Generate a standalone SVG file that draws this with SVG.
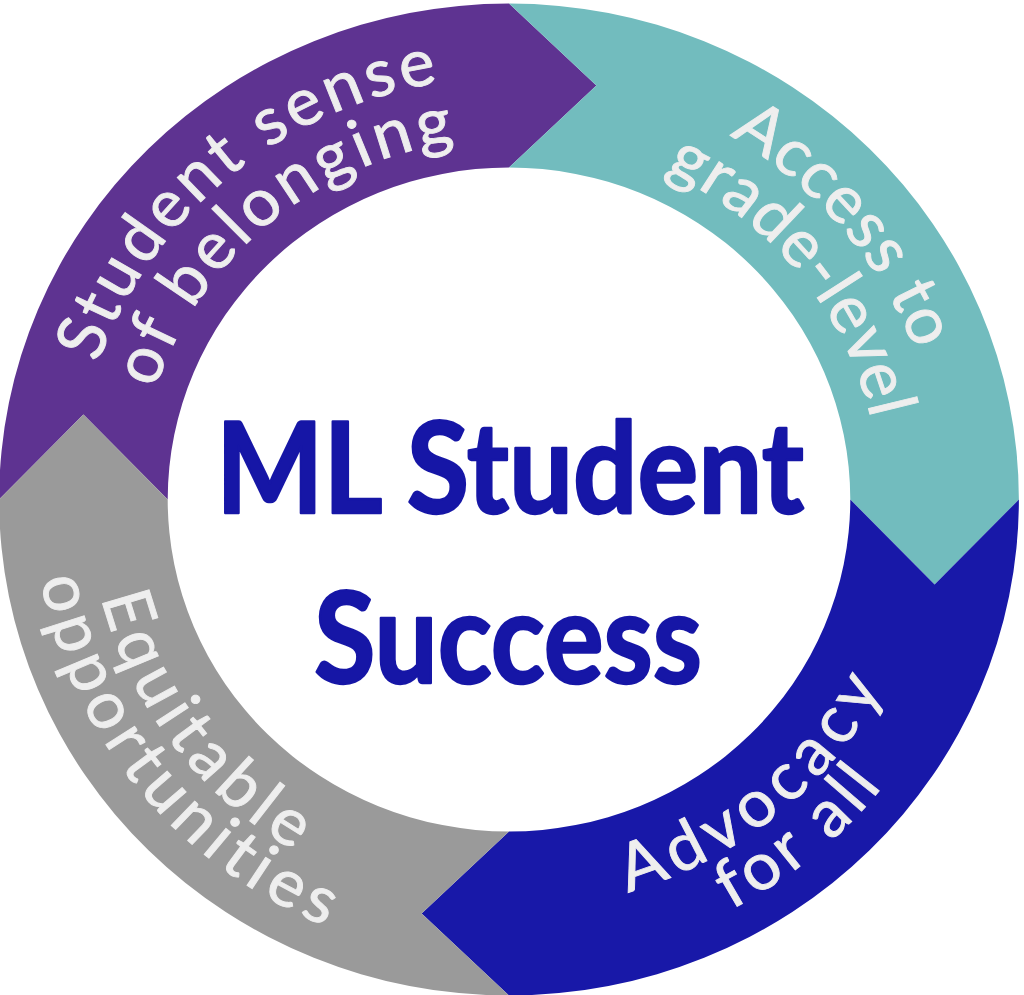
<svg xmlns="http://www.w3.org/2000/svg" width="1024" height="995" viewBox="0 0 1024 995">
<style>
.ring{font-family:Lato,"Noto Sans","DejaVu Sans",sans-serif;font-size:66px;letter-spacing:4px;fill:#EEEEEE;stroke:#EEEEEE;stroke-width:0.9;text-anchor:middle}
.center{font-family:Lato,"Noto Sans","DejaVu Sans",sans-serif;font-weight:700;font-size:126px;fill:#1616A6;stroke:#1616A6;stroke-width:2.5;stroke-linejoin:round;text-anchor:middle}
</style>
<defs>
<path id="pOut" d="M -345.7,242.1 A 422 422 0 0 1 298.4,-298.4"/>
<path id="pIn" d="M -295.7,207.1 A 361 361 0 0 1 255.3,-255.3"/>
<path id="tOut" d="M -242.1,-345.7 A 422 422 0 0 1 298.4,298.4"/>
<path id="tIn" d="M -201.9,-299.3 A 361 361 0 0 1 250.8,259.7"/>
<path id="bIn" d="M -289.2,289.2 A 409 409 0 0 0 335.1,-234.6"/>
<path id="bOut" d="M -327.4,327.4 A 463 463 0 0 0 379.3,-265.6"/>
<path id="gIn" d="M -273.7,-303.9 A 409 409 0 0 0 216.7,346.8"/>
<path id="gOut" d="M -321.6,-333.0 A 463 463 0 0 0 258.9,383.8"/>
</defs>
<rect width="1024" height="995" fill="#FFFFFF"/>
<g transform="translate(509,499.5) scale(1.028,1)">
<g id="belonging">
<path fill="#5E3391" d="M -496,0 A 496 496 0 0 1 0,-496 L 85,-414 L 0,-332 A 332 332 0 0 0 -332,0 L -414,-85 Z"/>
<text class="ring"><textPath href="#pOut" startOffset="50%">Student sense</textPath></text>
<text class="ring"><textPath href="#pIn" startOffset="50%">of belonging</textPath></text>
</g>
<g id="access">
<path fill="#72BCBE" d="M 0,-496 A 496 496 0 0 1 496,0 L 414,85 L 332,0 A 332 332 0 0 0 0,-332 L 85,-414 Z"/>
<text class="ring" style="letter-spacing:1.3px"><textPath href="#tOut" startOffset="50%">Access to</textPath></text>
<text class="ring" style="letter-spacing:1px"><textPath href="#tIn" startOffset="50%">grade-level</textPath></text>
</g>
<g id="advocacy">
<path fill="#1818A8" d="M 496,0 A 496 496 0 0 1 0,496 L -85,414 L 0,332 A 332 332 0 0 0 332,0 L 414,85 Z"/>
<text class="ring" style="letter-spacing:7px"><textPath href="#bIn" startOffset="50%">Advocacy</textPath></text>
<text class="ring" style="letter-spacing:5px"><textPath href="#bOut" startOffset="50%">for all</textPath></text>
</g>
<g id="equitable">
<path fill="#9A9A9A" d="M 0,496 A 496 496 0 0 1 -496,0 L -414,-85 L -332,0 A 332 332 0 0 0 0,332 L -85,414 Z"/>
<text class="ring" style="letter-spacing:6.6px"><textPath href="#gIn" startOffset="50%">Equitable</textPath></text>
<text class="ring" style="letter-spacing:6.2px"><textPath href="#gOut" startOffset="50%">opportunities</textPath></text>
</g>
</g>
<g id="center">
<text class="center" x="510" y="513" textLength="588" lengthAdjust="spacingAndGlyphs">ML Student</text>
<text class="center" x="508" y="683" textLength="388" lengthAdjust="spacingAndGlyphs">Success</text>
</g>
<g id="connectors"/>
</svg>
